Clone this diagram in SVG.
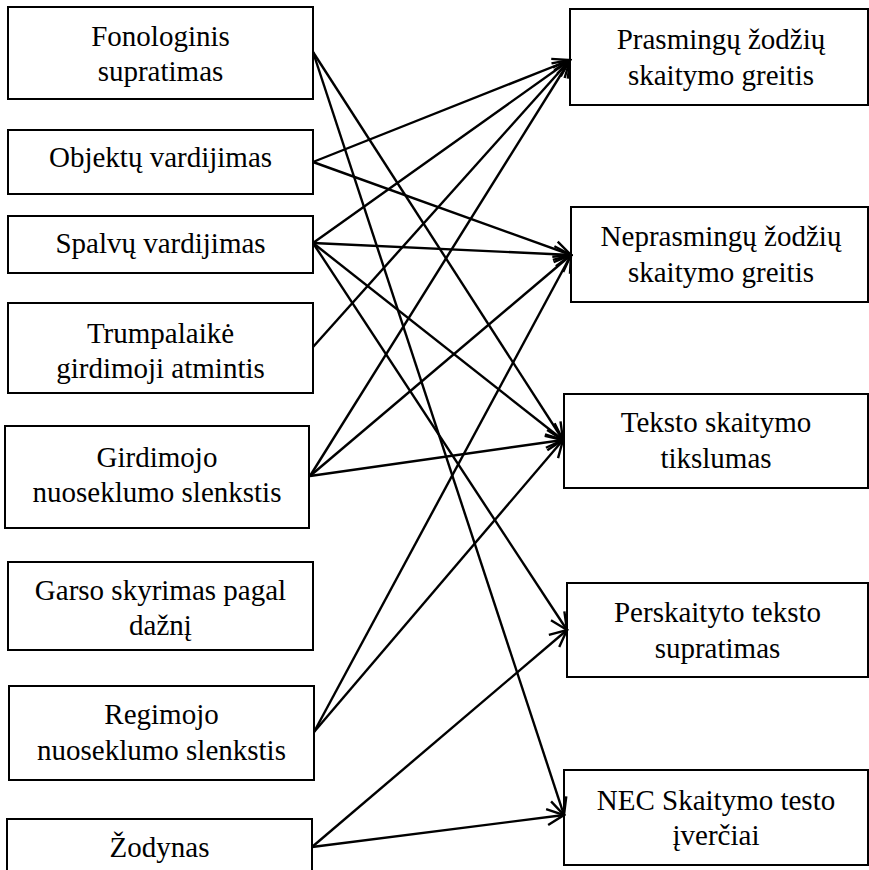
<svg xmlns="http://www.w3.org/2000/svg" width="869" height="870" viewBox="0 0 869 870">
  <style>
    .box rect { fill: #fff; stroke: #000; stroke-width: 2; }
    .box text { font-size: 29px; fill: #000; text-anchor: middle; }
    .edges line { stroke: #000; stroke-width: 2.4; marker-end: url(#arrow); }
  </style>
  <defs>
    <marker id="arrow" viewBox="-20 -10 22 20" refX="0" refY="0" markerWidth="22" markerHeight="20" markerUnits="userSpaceOnUse" orient="auto">
      <path d="M-17,-8 L0,0 L-17,8" fill="none" stroke="#000" stroke-width="2.4"/>
    </marker>
  </defs>
  <rect width="869" height="870" fill="#fff"/>

  <g font-family="Liberation Serif, Times New Roman, serif">
  <!-- predictors (left column) -->
  <g id="fonologinis" class="box">
    <rect x="8" y="7" width="305" height="92"/>
    <text x="160.5" y="46">Fonologinis</text>
    <text x="160.5" y="81">supratimas</text>
  </g>
  <g id="objektu" class="box">
    <rect x="8" y="130" width="305" height="64"/>
    <text x="160.5" y="167">Objektų vardijimas</text>
  </g>
  <g id="spalvu" class="box">
    <rect x="8" y="216" width="305" height="57"/>
    <text x="160.5" y="253">Spalvų vardijimas</text>
  </g>
  <g id="trumpalaike" class="box">
    <rect x="8" y="303" width="305" height="90"/>
    <text x="160.5" y="343">Trumpalaikė</text>
    <text x="160.5" y="378">girdimoji atmintis</text>
  </g>
  <g id="girdimojo" class="box">
    <rect x="5" y="426" width="304" height="102"/>
    <text x="157" y="467">Girdimojo</text>
    <text x="157" y="502">nuoseklumo slenkstis</text>
  </g>
  <g id="garso" class="box">
    <rect x="8" y="562" width="305" height="88"/>
    <text x="160.5" y="600">Garso skyrimas pagal</text>
    <text x="160.5" y="635">dažnį</text>
  </g>
  <g id="regimojo" class="box">
    <rect x="9" y="686" width="305" height="94"/>
    <text x="161.5" y="724">Regimojo</text>
    <text x="161.5" y="760">nuoseklumo slenkstis</text>
  </g>
  <g id="zodynas" class="box">
    <rect x="7" y="819" width="305" height="60"/>
    <text x="159.5" y="857">Žodynas</text>
  </g>

  <!-- outcomes (right column) -->
  <g id="prasmingu" class="box">
    <rect x="570" y="9" width="298" height="96"/>
    <text x="721" y="49">Prasmingų žodžių</text>
    <text x="721" y="85">skaitymo greitis</text>
  </g>
  <g id="neprasmingu" class="box">
    <rect x="571" y="207" width="297" height="95"/>
    <text x="721" y="246">Neprasmingų žodžių</text>
    <text x="721" y="282">skaitymo greitis</text>
  </g>
  <g id="teksto" class="box">
    <rect x="564" y="394" width="304" height="94"/>
    <text x="716" y="432">Teksto skaitymo</text>
    <text x="716" y="468">tikslumas</text>
  </g>
  <g id="perskaityto" class="box">
    <rect x="567" y="583" width="301" height="94"/>
    <text x="717.5" y="622">Perskaityto teksto</text>
    <text x="717.5" y="658">supratimas</text>
  </g>
  <g id="nec" class="box">
    <rect x="564" y="770" width="304" height="95"/>
    <text x="716" y="810">NEC Skaitymo testo</text>
    <text x="716" y="845">įverčiai</text>
  </g>
  </g>

  <!-- connectors -->
  <g id="connectors" class="edges">
    <line x1="313" y1="52" x2="563" y2="440"/>
    <line x1="313" y1="52" x2="564" y2="815"/>
    <line x1="313" y1="162" x2="570" y2="60"/>
    <line x1="313" y1="162" x2="571" y2="255"/>
    <line x1="313" y1="243" x2="570" y2="60"/>
    <line x1="313" y1="243" x2="571" y2="255"/>
    <line x1="313" y1="243" x2="563" y2="440"/>
    <line x1="313" y1="243" x2="567" y2="630"/>
    <line x1="313" y1="347" x2="570" y2="60"/>
    <line x1="310" y1="476" x2="570" y2="60"/>
    <line x1="310" y1="476" x2="571" y2="255"/>
    <line x1="310" y1="476" x2="563" y2="440"/>
    <line x1="314" y1="732" x2="571" y2="255"/>
    <line x1="314" y1="732" x2="563" y2="440"/>
    <line x1="312" y1="847" x2="567" y2="630"/>
    <line x1="312" y1="847" x2="564" y2="815"/>
  </g>
</svg>
